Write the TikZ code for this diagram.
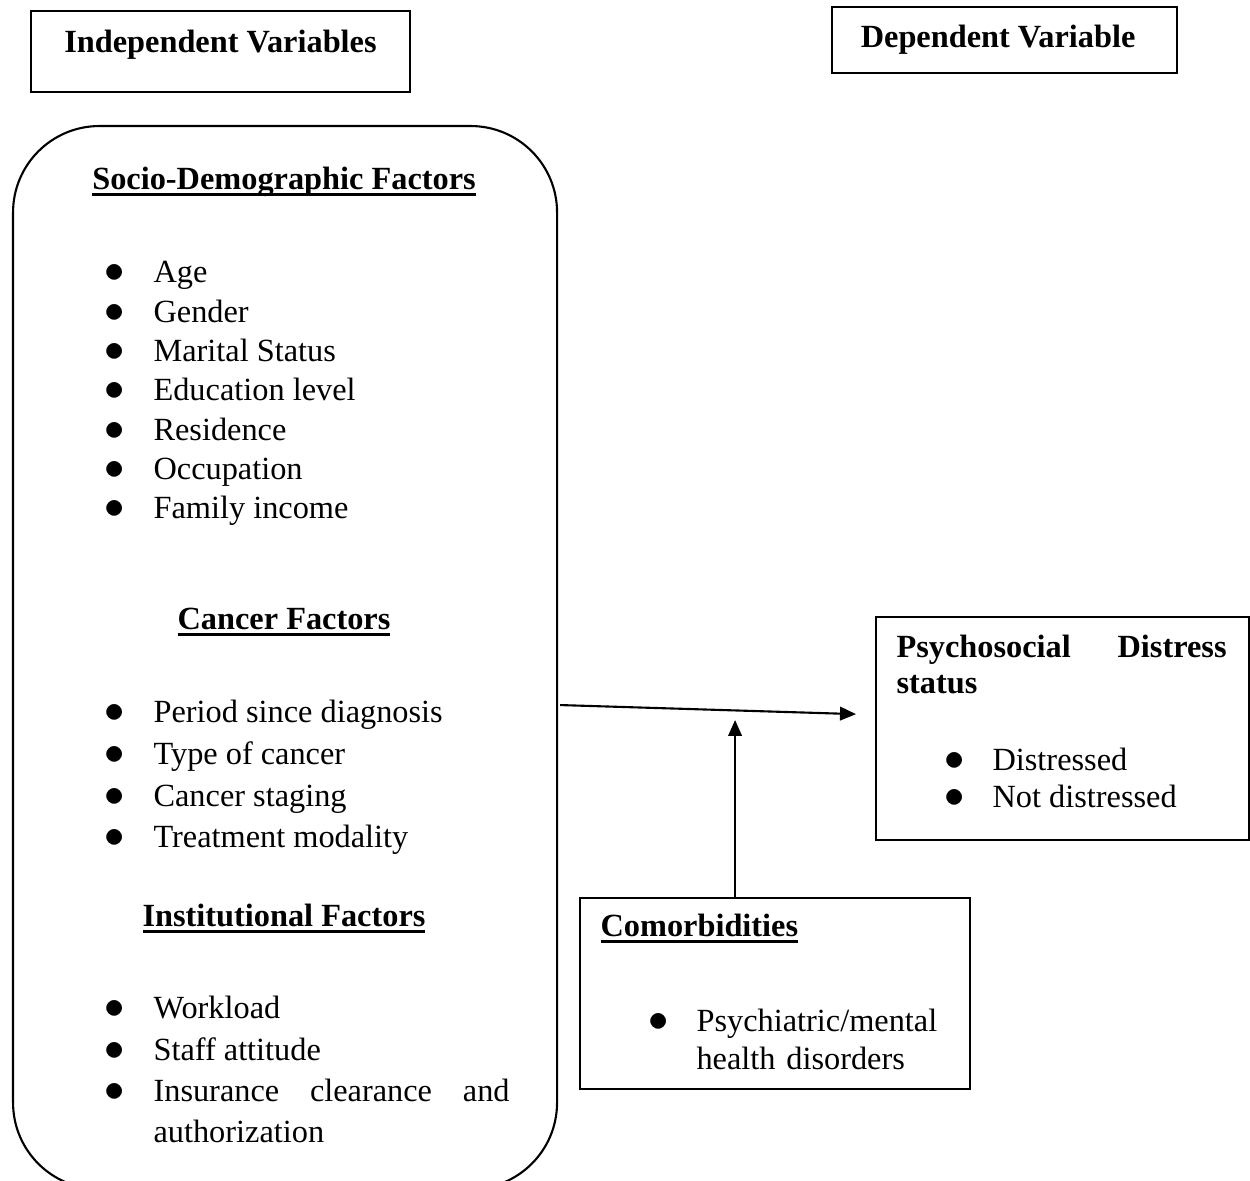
\documentclass[tikz,border=0pt]{standalone}
\usepackage{fontspec}
\setmainfont{Liberation Serif}
\usetikzlibrary{calc,arrows.meta}

\newcommand{\ulhead}[1]{\setbox0=\hbox{#1}\rlap{\rule[-2.2pt]{\wd0}{1.1pt}}\box0}

\begin{document}
\begin{tikzpicture}[
  frame/.style={rectangle,draw,line width=0.75pt,inner sep=0pt,anchor=north west},
  head/.style={font=\fontsize{11.5}{12.5}\selectfont\bfseries,inner sep=0pt},
  bul/.style={inner sep=0pt,anchor=base west,font=\fontsize{13.5}{14}\selectfont},
  item/.style={inner sep=0pt,anchor=base west,font=\fontsize{11.5}{#1}\selectfont},
  item/.default=14pt,
  arrow/.style={-{Triangle[length=0.2cm,width=0.17cm]},line width=0.75pt},
]
\useasboundingbox (0,0) rectangle (15.625,14.7625);

% === TOP LABELS ===
\node[frame,anchor=center,minimum width=4.7375cm,minimum height=1.0125cm,
  font=\fontsize{11.5}{14}\selectfont\bfseries,text height=8pt,text depth=7pt] (indep) at (2.756,14.119) {Independent Variables};
\node[frame,anchor=center,minimum width=4.3125cm,minimum height=0.825cm,
  font=\fontsize{11.5}{14}\selectfont\bfseries] (dep) at (12.556,14.2625) {Dependent Variable\hspace*{0.16cm}};

% === INDEPENDENT VARIABLES ===
\node[frame,rounded corners=1.08cm,minimum width=6.8cm,minimum height=13.2875cm] (indepbox) at (0.15,13.2) {};

\node[head,anchor=base] (socio) at (3.55,12.3875) {\ulhead{Socio-Demographic Factors}};
\foreach \txt [count=\i] in {Age,Gender,Marital Status,Education level,Residence,Occupation,Family income}{
  \node[bul] (sociob\i) at (1.3,{11.225-0.491*(\i-1)}) {$\bullet$};
  \node[item] (socio\i) at (1.9125,{11.225-0.491*(\i-1)}) {\txt};
}

\node[head,anchor=base] (cancer) at (3.55,6.8875) {\ulhead{Cancer Factors}};
\foreach \txt [count=\i] in {Period since diagnosis,Type of cancer,Cancer staging,Treatment modality}{
  \node[bul] (cancerb\i) at (1.3,{5.725-0.52*(\i-1)}) {$\bullet$};
  \node[item] (cancer\i) at (1.9125,{5.725-0.52*(\i-1)}) {\txt};
}

\node[head,anchor=base] (inst) at (3.55,3.175) {\ulhead{Institutional Factors}};
\foreach \txt [count=\i] in {Workload,Staff attitude}{
  \node[bul] (instb\i) at (1.3,{2.025-0.5175*(\i-1)}) {$\bullet$};
  \node[item] (inst\i) at (1.9125,{2.025-0.5175*(\i-1)}) {\txt};
}
\node[bul] (instb3) at (1.3,0.99) {$\bullet$};
\node[item=14.6pt,text width=4.45cm,align=justify] (inst3) at (1.9125,0.99) {Insurance clearance and\linebreak authorization};

% === DEPENDENT VARIABLE ===
\node[frame,minimum width=4.6625cm,minimum height=2.7875cm] (psychbox) at (10.9375,7.0625) {};
\node[head,anchor=base west,text width=4.125cm,align=justify] (psyhead) at (11.2,6.5375) {Psychosocial Distress\linebreak status};
\foreach \txt [count=\i] in {Distressed,Not distressed}{
  \node[bul] (psychb\i) at (11.8,{5.125-0.4625*(\i-1)}) {$\bullet$};
  \node[item] (psych\i) at (12.4,{5.125-0.4625*(\i-1)}) {\txt};
}

% === COMORBIDITIES ===
\node[frame,minimum width=4.875cm,minimum height=2.3875cm] (comorbox) at (7.2375,3.55) {};
\node[head,anchor=base west] (comorb) at (7.5,3.05) {\ulhead{Comorbidities}};
\node[bul] (comorbb1) at (8.1,1.8625) {$\bullet$};
\node[item=13.5pt,text width=3.2cm,align=left] (comorb1) at (8.7,1.8625) {Psychiatric/mental\\health disorders};

% Arrows
\draw[arrow] ($(indepbox.east)+(0.025,-0.594)$) -- ($(psychbox.west)+(-0.2375,0.18)$);
\draw[arrow] ($(comorbox.north)+(-0.5,0)$) -- ($(comorbox.north)+(-0.5,2.2125)$);

\end{tikzpicture}
\end{document}
